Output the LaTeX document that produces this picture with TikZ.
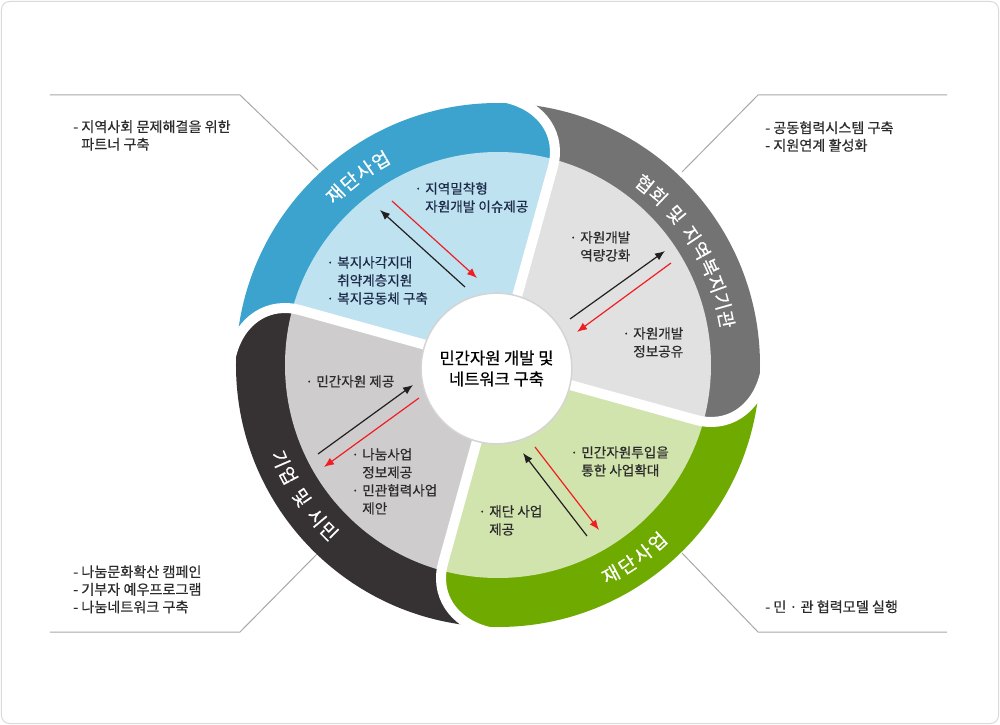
\documentclass[tikz,border=0pt]{standalone}
\usepackage{fontspec}
\setmainfont{Noto Sans CJK KR}[FakeBold=0.45]
\usetikzlibrary{arrows.meta}
\definecolor{bandblue}{HTML}{3BA3CD}
\definecolor{lightblue}{HTML}{BEE2F0}
\definecolor{bandgray}{HTML}{737373}
\definecolor{lightgray}{HTML}{E1E1E1}
\definecolor{bandgreen}{HTML}{6EAA00}
\definecolor{lightgreen}{HTML}{D2E4AE}
\definecolor{banddark}{HTML}{363132}
\definecolor{lightdark}{HTML}{CFCCCD}
\definecolor{arrred}{HTML}{F01E23}
\definecolor{arrblack}{HTML}{231F20}
\definecolor{txt}{HTML}{2B2B2B}
\definecolor{navytxt}{HTML}{1D2B48}
\definecolor{leadercol}{HTML}{A8A8A8}
\definecolor{framecol}{HTML}{DADADA}
\definecolor{hubline}{HTML}{D4D4D4}
\newcommand\bul{\makebox[3pt][c]{·}\hspace{3.75pt}}
\newcommand\ind{\hspace*{6.75pt}}
\tikzset{
  lbl/.style={anchor=north west, inner sep=0pt, align=left, font=\fontsize{10.2}{13.5}\selectfont, text=txt},
  note/.style={anchor=north west, inner sep=0pt, align=left, font=\fontsize{10.6}{13.2}\selectfont, text=txt},
  bandlbl/.style={inner sep=0pt, text=white, font=\fontsize{14}{14}\selectfont},
  leader/.style={draw=leadercol, line width=0.75pt},
  outarrow/.style={draw=arrblack, line width=0.9pt, -{Latex[length=7.5pt,width=6pt]}},
  inarrow/.style={draw=arrred, line width=0.9pt, -{Latex[length=7.5pt,width=6pt]}},
  hub/.style={circle, fill=white, draw=hubline, line width=1.1pt, minimum size=113pt, inner sep=0pt,
    align=center, font=\fontsize{12.4}{15.75}\selectfont, text=black}
}
\begin{document}
\begin{tikzpicture}[x=0.75pt,y=0.75pt]
% ---------- frame, bounding box, leader lines (screen coordinates) ----------
\begin{scope}[shift={(-498,365)}]
  \useasboundingbox (0,0) rectangle (1000,-725);
  \draw[draw=framecol, line width=0.75pt, rounded corners=6pt] (1.5,-1.5) rectangle (998.5,-723.5);
  \coordinate (tl1) at (50,-95);  \coordinate (tl2) at (240,-95);  \coordinate (tl3) at (318,-170);
  \coordinate (tr1) at (947,-95); \coordinate (tr2) at (758,-95);  \coordinate (tr3) at (682,-172);
  \coordinate (bl1) at (50,-632); \coordinate (bl2) at (240,-632); \coordinate (bl3) at (318,-553);
  \coordinate (br1) at (947,-632);\coordinate (br2) at (758,-632); \coordinate (br3) at (682,-553);
  \draw[leader] (tl1) -- (tl2) -- (tl3);
  \draw[leader] (tr1) -- (tr2) -- (tr3);
  \draw[leader] (bl1) -- (bl2) -- (bl3);
  \draw[leader] (br1) -- (br2) -- (br3);
\end{scope}
% ---------- the four pieces ----------
\foreach \k/\band/\light in {0/bandblue/lightblue, -90/bandgray/lightgray, -180/bandgreen/lightgreen, -270/banddark/lightdark}{
  \begin{scope}[rotate=\k]
    \clip (0,0) -- (74.5:30) -- (74.5:205) .. controls (74.5:238) and (80:262) .. (88:267) -- (88:330)
      arc[start angle=88, end angle=178, radius=330] -- (178:267) .. controls (170:262) and (164.5:238) .. (164.5:205)
      -- (164.5:30) -- cycle;
    \fill[\band] (0,0) circle[radius=262];
    \fill[\light] (0,0) circle[radius=213];
  \end{scope}
}
% white gaps
\foreach \k in {0,-90,-180,-270}{
  \draw[white, line width=7.5pt, rotate=\k] (74.5:40) -- (74.5:205) .. controls (74.5:238) and (80:262) .. (88:267);
}
% ---------- hub ----------
\node[hub] (hub) at (-1.5,-3.5) {민간자원 개발 및\\네트워크 구축};
% ---------- band labels ----------
\foreach \c/\a [count=\i] in {재/133.6, 단/129.0, 사/124.4, 업/119.8}
  \node[bandlbl, rotate=\a-90] (blue\i) at (\a:236) {\c};
\foreach \c/\a [count=\i] in {협/51.0, 회/46.5, 및/40.2, 지/33.9, 역/29.4, 복/24.8, 지/20.3, 기/15.8, 관/11.3}
  \node[bandlbl, rotate=\a-90] (gray\i) at (\a:233) {\c};
\foreach \c/\a [count=\i] in {재/-61.7, 단/-57.1, 사/-52.5, 업/-47.9}
  \node[bandlbl, rotate=\a+90] (green\i) at (\a:238) {\c};
\foreach \c/\a [count=\i] in {기/203.4, 업/207.8, 및/214.0, 시/220.1, 민/224.5}
  \node[bandlbl, rotate=\a+90] (dark\i) at (\a:237) {\c};
% ---------- texts and arrows (screen coordinates) ----------
\begin{scope}[shift={(-498,365)}]
  % blue sector
  \node[lbl, text=navytxt] (b1) at (416,-182) {\bul 지역밀착형\\\ind 자원개발 이슈제공};
  \node[lbl, text=navytxt] (b2) at (328,-256) {\bul 복지사각지대\\\ind 취약계층지원\\\bul 복지공동체 구축};
  % gray sector
  \node[lbl] (g1) at (571,-231) {\bul 자원개발\\\ind 역량강화};
  \node[lbl] (g2) at (624,-327) {\bul 자원개발\\\ind 정보공유};
  % dark sector
  \node[lbl] (d1) at (307,-375) {\bul 민간자원 제공};
  \node[lbl] (d2) at (353,-448) {\bul 나눔사업\\\ind 정보제공\\\bul 민관협력사업\\\ind 제안};
  % green sector
  \node[lbl] (e1) at (572,-446) {\bul 민간자원투입을\\\ind 통한 사업확대};
  \node[lbl] (e2) at (480,-505) {\bul 재단 사업\\\ind 제공};
  % side notes
  \node[note] (ntl) at (73,-120) {- 지역사회 문제해결을 위한\\\phantom{- }파트너 구축};
  \node[note] (ntr) at (765,-121) {- 공동협력시스템 구축\\- 지원연계 활성화};
  \node[note] (nbl) at (73,-565) {- 나눔문화확산 캠페인\\- 기부자 예우프로그램\\- 나눔네트워크 구축};
  \node[note] (nbr) at (765,-600) {- 민 · 관 협력모델 실행};
  % arrows
  \coordinate (ba1) at (465,-287); \coordinate (ba2) at (380,-210);
  \coordinate (br1a) at (392,-201); \coordinate (br2a) at (477,-278);
  \coordinate (ga1) at (570,-319); \coordinate (ga2) at (665,-251);
  \coordinate (gr1) at (671,-263); \coordinate (gr2) at (577,-332);
  \coordinate (da1) at (318,-454); \coordinate (da2) at (413,-385);
  \coordinate (dr1) at (419,-398); \coordinate (dr2) at (324,-467);
  \coordinate (ea1) at (587,-536); \coordinate (ea2) at (523,-453);
  \coordinate (er1) at (535,-447); \coordinate (er2) at (599,-530);
  \draw[outarrow] (ba1) -- (ba2);
  \draw[inarrow] (br1a) -- (br2a);
  \draw[outarrow] (ga1) -- (ga2);
  \draw[inarrow] (gr1) -- (gr2);
  \draw[outarrow] (da1) -- (da2);
  \draw[inarrow] (dr1) -- (dr2);
  \draw[outarrow] (ea1) -- (ea2);
  \draw[inarrow] (er1) -- (er2);
\end{scope}
\end{tikzpicture}
\end{document}
